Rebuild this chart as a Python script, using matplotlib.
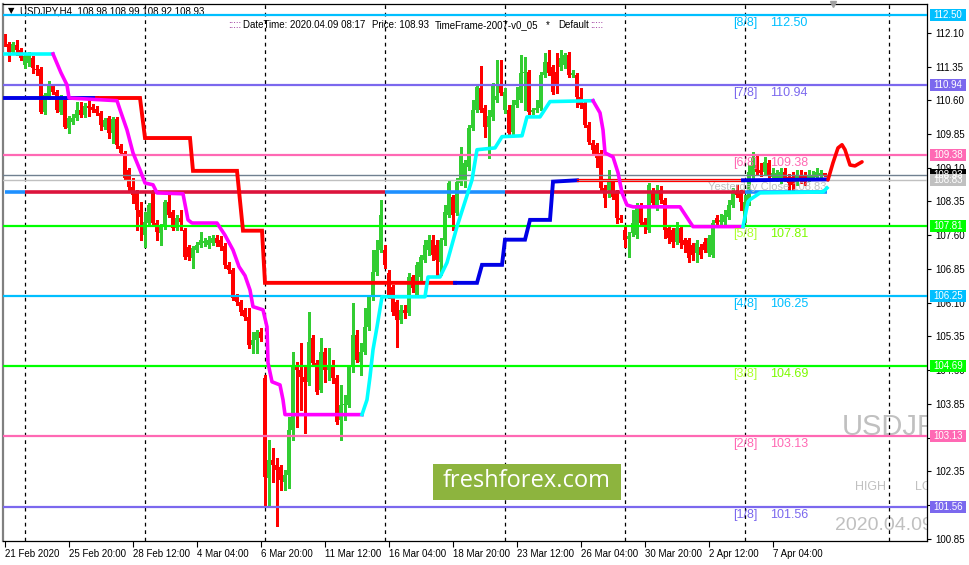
import numpy as np
import matplotlib
matplotlib.use("Agg")
import matplotlib.pyplot as plt
from matplotlib.patches import Rectangle
from matplotlib.transforms import blended_transform_factory

plt.rcParams['font.family'] = ['Liberation Sans', 'DejaVu Sans']

# USDJPY H4 candles, bar 0 = Mon 24 Feb 2020 00:00 (weekends skipped)
first_bar = -5

opens = [112.01, 111.85, 111.68, 111.83, 111.72,
         111.39, 111.43, 111.54, 111.30, 111.30, 110.34, 110.68, 110.92, 110.79, 110.34,
         110.61, 109.99, 110.12, 110.21, 110.39, 110.28, 110.48, 110.45, 110.41, 110.32,
         110.01, 110.21, 109.88, 110.19, 109.59, 109.43, 109.05, 108.68, 108.54, 108.16,
         107.61, 107.87, 108.54, 107.87, 107.65, 107.79, 108.34, 108.12, 107.76, 107.99,
         107.72, 107.34, 107.10, 107.27, 107.39, 107.43, 107.39, 107.43, 107.54, 107.50,
         107.36, 106.94, 106.83, 106.23, 106.12, 105.94, 105.78, 105.16, 105.27, 105.45,
         104.43, 102.20, 102.60, 102.49, 102.45, 102.11, 102.27, 103.27, 104.67, 104.61,
         104.45, 104.34, 105.32, 104.76, 104.16, 105.01, 104.61, 104.72, 104.43, 103.49,
         103.82, 103.83, 104.67, 105.38, 104.78, 105.01, 105.56, 106.23, 106.79, 107.27,
         107.27, 106.76, 106.45, 106.12, 105.72, 105.94, 105.87, 106.67, 106.27, 106.67,
         107.05, 107.27, 107.50, 107.39, 107.01, 107.50, 108.05, 108.45, 108.10, 108.76,
         108.83, 109.12, 109.99, 110.39, 110.88, 110.43, 110.01, 110.23, 110.61, 110.94,
         110.39, 110.39, 109.90, 110.50, 110.61, 111.21, 111.23, 110.34, 110.39, 110.43,
         111.17, 111.45, 111.34, 111.23, 111.34, 111.39, 111.61, 111.17, 111.17, 110.68,
         110.54, 110.05, 109.65, 109.61, 109.43, 108.65, 108.61, 108.79, 108.54, 107.99,
         107.72, 107.52, 107.65, 107.61, 108.27, 107.90, 107.72, 108.56, 108.23, 108.61,
         108.39, 107.76, 107.72, 107.45, 107.76, 107.50, 107.50, 107.39, 107.21, 107.34,
         107.45, 107.21, 107.16, 107.99, 107.90, 107.90, 108.01, 108.27, 108.56, 108.54,
         107.94, 108.39, 108.94, 109.16, 109.05, 109.01, 109.21, 108.90, 108.88, 108.83,
         109.01, 108.90, 108.90, 108.79, 108.94, 108.94, 108.88, 108.88, 108.90, 108.92,
         108.98]

closes = [111.85, 111.68, 111.85, 111.72, 111.54,
          111.59, 111.61, 111.32, 111.28, 110.34, 110.72, 110.94, 110.79, 110.39, 110.68,
          110.01, 110.21, 110.21, 110.39, 110.28, 110.48, 110.43, 110.39, 110.32, 110.05,
          110.16, 109.88, 110.19, 109.61, 109.43, 108.88, 108.68, 108.50, 108.16, 108.01,
          107.90, 108.27, 107.87, 107.67, 107.79, 108.34, 108.05, 107.76, 107.99, 107.90,
          107.12, 107.12, 107.32, 107.39, 107.50, 107.47, 107.50, 107.54, 107.43, 107.34,
          106.94, 106.83, 106.21, 106.12, 105.90, 105.78, 105.16, 105.27, 105.45, 105.32,
          102.23, 102.60, 102.49, 102.38, 102.16, 102.27, 103.27, 104.72, 104.61, 104.45,
          104.34, 105.23, 104.76, 104.12, 105.01, 104.61, 104.72, 104.43, 103.45, 103.83,
          103.84, 104.67, 105.38, 104.83, 105.01, 105.56, 106.23, 106.79, 107.27, 108.05,
          106.94, 106.27, 105.90, 105.72, 105.94, 105.87, 106.67, 106.43, 106.94, 107.12,
          107.39, 107.50, 107.16, 107.05, 107.50, 108.12, 108.76, 108.05, 108.79, 109.39,
          109.21, 109.99, 110.39, 110.90, 110.39, 110.01, 110.25, 110.94, 110.70, 110.77,
          110.79, 109.88, 110.50, 110.61, 111.21, 111.23, 110.34, 110.39, 110.43, 111.17,
          111.45, 111.21, 110.79, 110.94, 111.54, 111.61, 111.17, 111.21, 110.68, 110.50,
          110.05, 109.68, 109.50, 109.32, 108.65, 108.43, 108.79, 108.45, 107.99, 107.94,
          107.50, 107.59, 107.87, 108.27, 107.87, 107.83, 108.72, 108.32, 108.54, 108.39,
          107.72, 107.54, 107.45, 107.76, 107.43, 107.39, 107.10, 107.16, 107.43, 107.16,
          107.27, 107.54, 107.87, 107.87, 107.94, 108.05, 108.27, 108.54, 108.50, 108.34,
          108.34, 109.01, 109.32, 109.01, 108.99, 109.23, 108.94, 108.99, 108.99, 109.01,
          108.88, 108.76, 108.72, 108.94, 108.88, 108.79, 108.94, 108.94, 109.01, 108.99,
          108.93]

highs = [112.08, 111.90, 111.90, 111.94, 111.77,
         111.63, 111.68, 111.59, 111.39, 111.34, 110.77, 111.03, 110.97, 110.83, 110.72,
         110.65, 110.25, 110.30, 110.57, 110.57, 110.54, 110.65, 110.52, 110.48, 110.36,
         110.21, 110.25, 110.23, 110.23, 109.63, 109.48, 109.10, 108.88, 108.61, 108.34,
         108.12, 108.32, 108.61, 107.94, 107.85, 108.39, 108.54, 108.16, 108.05, 108.16,
         107.76, 107.39, 107.36, 107.45, 107.67, 107.54, 107.59, 107.61, 107.61, 107.59,
         107.43, 107.01, 106.87, 106.30, 106.16, 105.98, 105.98, 105.45, 105.49, 105.54,
         104.49, 103.05, 102.87, 102.65, 102.49, 102.38, 103.56, 105.01, 104.78, 105.21,
         104.72, 105.90, 105.38, 104.83, 105.32, 105.09, 105.09, 104.83, 104.49, 104.27,
         104.05, 104.72, 106.10, 105.49, 105.21, 105.98, 106.27, 107.27, 107.50, 108.39,
         107.39, 106.83, 106.50, 106.16, 106.05, 106.05, 106.76, 106.72, 107.01, 107.16,
         107.50, 107.61, 107.61, 107.50, 107.54, 108.27, 108.83, 108.50, 108.88, 109.56,
         109.28, 110.05, 110.61, 110.94, 111.37, 110.50, 110.39, 110.99, 111.50, 111.50,
         110.88, 110.50, 110.61, 110.90, 111.61, 111.57, 111.28, 110.43, 110.61, 111.23,
         111.65, 111.72, 111.39, 111.65, 111.72, 111.65, 111.68, 111.28, 111.21, 110.88,
         110.61, 110.12, 109.72, 109.65, 109.50, 108.72, 109.05, 108.83, 108.61, 108.05,
         107.81, 107.67, 108.16, 108.32, 108.32, 107.99, 108.76, 108.65, 108.72, 108.70,
         108.43, 107.81, 107.76, 107.90, 107.81, 107.54, 107.54, 107.43, 107.50, 107.41,
         107.54, 107.61, 107.94, 108.05, 108.07, 108.16, 108.39, 108.65, 108.72, 108.61,
         108.50, 109.16, 109.45, 109.39, 109.21, 109.34, 109.28, 109.10, 109.05, 109.10,
         109.10, 108.96, 109.01, 109.05, 109.05, 109.01, 109.05, 109.03, 109.10, 109.05,
         108.99]

lows = [111.81, 111.48, 111.63, 111.61, 111.50,
        111.32, 111.37, 111.21, 111.17, 110.32, 110.30, 110.63, 110.74, 110.34, 110.30,
        109.99, 109.88, 110.08, 110.16, 110.23, 110.23, 110.25, 110.34, 110.28, 109.94,
        109.96, 109.76, 109.65, 109.54, 109.39, 108.83, 108.61, 108.32, 107.72, 107.50,
        107.34, 107.81, 107.83, 107.50, 107.39, 107.74, 108.01, 107.72, 107.72, 107.72,
        107.07, 107.05, 106.87, 107.23, 107.34, 107.36, 107.32, 107.39, 107.36, 107.27,
        106.87, 106.76, 106.16, 106.05, 105.83, 105.72, 105.09, 104.98, 104.98, 105.25,
        101.56, 101.56, 102.11, 101.14, 101.94, 101.94, 101.98, 103.05, 103.34, 103.72,
        103.20, 104.27, 104.72, 104.07, 104.12, 104.34, 104.38, 104.32, 103.40, 103.05,
        103.49, 103.78, 104.56, 104.78, 104.49, 104.96, 105.49, 106.16, 106.72, 107.23,
        106.87, 106.21, 105.83, 105.12, 105.65, 105.76, 105.83, 106.34, 106.23, 106.61,
        107.01, 107.16, 107.05, 106.72, 106.72, 107.39, 108.01, 107.72, 108.05, 108.72,
        108.68, 109.05, 109.94, 110.34, 110.34, 109.79, 109.32, 110.16, 110.57, 110.72,
        110.32, 109.83, 109.85, 110.45, 110.57, 110.39, 110.30, 110.30, 110.34, 110.39,
        111.12, 111.17, 110.74, 110.77, 111.28, 111.32, 111.12, 111.12, 110.45, 110.43,
        110.01, 109.63, 109.43, 109.12, 108.61, 108.23, 108.45, 108.41, 107.87, 107.90,
        107.34, 107.12, 107.59, 107.54, 107.81, 107.65, 107.67, 108.27, 108.16, 108.32,
        107.54, 107.43, 107.34, 107.41, 107.32, 107.23, 107.01, 107.05, 107.01, 107.10,
        107.23, 107.14, 107.12, 107.81, 107.81, 107.85, 107.96, 108.23, 108.45, 108.16,
        107.90, 108.27, 108.88, 108.94, 108.92, 108.94, 108.88, 108.83, 108.81, 108.76,
        108.81, 108.61, 108.56, 108.72, 108.76, 108.72, 108.81, 108.83, 108.83, 108.88,
        108.92]

# supertrend-style trailing line (bar, price), colour flips cyan <-> magenta
st_bars = [-5, 7, 9, 10.5, 11, 23, 23.75, 25.5, 27, 28.75, 30, 32, 33, 39.5, 40.75, 41.75,
           48, 50, 52, 53.5, 55, 56.25, 57, 59.5, 60.5, 60.75, 61.75, 63.75, 64.5, 65,
           84.25, 85.5, 86.25, 87, 88, 89.25, 100, 100.75, 103.75, 105.5, 108, 111.75, 113,
           117.5, 119.25, 124.25, 125.5, 128.75, 131.25, 142, 143.75, 144.5, 145, 147,
           148.25, 149.25, 150.5, 152, 163.75, 167, 179.5, 180.75, 181.25, 183.75, 199.5, 200.5]
st_price = [111.63, 111.63, 111.21, 110.94, 110.65, 110.59, 110.39, 109.94, 109.43, 109.05,
            108.76, 108.72, 108.54, 108.52, 107.94, 107.87, 107.87, 107.60, 107.27, 106.90,
            106.70, 106.38, 106.01, 105.94, 105.56, 104.76, 104.34, 104.27, 103.94, 103.61,
            103.61, 103.94, 104.45, 105.05, 105.56, 106.23, 106.23, 106.67, 106.67, 106.99,
            107.79, 108.83, 109.50, 109.54, 109.79, 109.81, 110.23, 110.23, 110.57, 110.59,
            110.32, 109.94, 109.43, 109.34, 108.99, 108.54, 108.27, 108.23, 108.23, 107.79,
            107.79, 108.34, 108.39, 108.54, 108.56, 108.65]
st_flips = [7, 84.25, 142, 179.5]

# stepped stop line (bar, price)
stop_bars = [-5, 18, 28.75, 30, 41.25, 42, 53, 54.5, 59.25, 60, 107.5, 113, 114.25, 119.25,
             120, 125, 126.25, 131.25, 132, 138, 179.5, 200.5]
stop_price = [110.65, 110.65, 110.65, 109.76, 109.76, 109.03, 109.03, 107.70, 107.70, 106.54,
              106.54, 106.54, 106.94, 106.94, 107.50, 107.50, 107.94, 107.94, 108.79, 108.82,
              108.82, 108.84]
stop_switch = [18, 107.5, 138, 179.5]

# weekly level coloured per week
week_level = 108.57
week_switch = [0, 90, 120, 180]
week_starts = [0, 30, 60, 90, 120, 150, 180, 216]

murrey_names = ['[8/8]', '[7/8]', '[6/8]', '[5/8]', '[4/8]', '[3/8]', '[2/8]', '[1/8]']
murrey_levels = [112.50, 110.94, 109.38, 107.81, 106.25, 104.69, 103.13, 101.56]
murrey_colors = ['#00BFFF', '#7B68EE', '#FF69B4', '#00FF00', '#00BFFF', '#00FF00', '#FF69B4', '#7B68EE']
name_colors = ['#00BFFF', '#7B68EE', '#FF69B4', '#ADFF2F', '#00BFFF', '#ADFF2F', '#FF69B4', '#7B68EE']
value_colors = ['#00BFFF', '#7B68EE', '#FF69B4', '#7CFC00', '#00BFFF', '#7CFC00', '#FF69B4', '#7B68EE']

bid = 108.93
yesterday_close = 108.83

# hand-drawn forecast wave
wave_bars = [200.75, 202, 203.25, 204.25, 205, 206.25, 207.5, 209.25]
wave_price = [108.83, 109.21, 109.54, 109.61, 109.50, 109.16, 109.14, 109.23]

tick_bars = [-5, 11, 27, 43, 59, 75, 91, 107, 123, 139, 155, 171, 187]
tick_labels = ['21 Feb 2020', '25 Feb 20:00', '28 Feb 12:00', '4 Mar 04:00', '6 Mar 20:00',
               '11 Mar 12:00', '16 Mar 04:00', '18 Mar 20:00', '23 Mar 12:00', '26 Mar 04:00',
               '30 Mar 20:00', '2 Apr 12:00', '7 Apr 04:00']
price_ticks = [round(100.85 + 0.75 * k, 2) for k in range(16)]

# ---------------------------------------------------------------
W, H = 970, 565
fig = plt.figure(figsize=(W / 100, H / 100), dpi=100)
ax = fig.add_axes([3 / W, (H - 541) / H, 924 / W, 537 / H])
ax.set_xlim(-5.5, 225.5)
ax.set_ylim(100.80, 112.74)


def px(x, y):
    # screen pixel -> axes fraction, for decoration placement
    return (x - 3) / 924, (541 - y) / 537


o = np.array(opens)
c = np.array(closes)
hi = np.maximum(np.array(highs), np.maximum(o, c))
lo = np.minimum(np.array(lows), np.minimum(o, c))
bars = np.arange(first_bar, first_bar + len(c))
up = c >= o
col = np.where(up, '#32CD32', '#FF0000')

ax.vlines(bars, lo, hi, colors=col, lw=0.8, antialiased=False, zorder=2)
body = np.maximum(np.abs(c - o), 0.02)
ax.bar(bars, body, bottom=np.minimum(o, c), width=0.78, color=col, lw=0,
       antialiased=False, zorder=2)

# weekly separators
for wk in week_starts:
    ax.axvline(wk, color='black', lw=0.9, ls=(0, (3, 3)), zorder=1.5)

# horizontal levels
for lev, colr in zip(murrey_levels, murrey_colors):
    ax.axhline(lev, color=colr, lw=1.6, zorder=3)
ax.axhline(bid, color='#708090', lw=1.0, zorder=3)
ax.axhline(yesterday_close, color='#C0C0C0', lw=1.0, zorder=3)

# weekly level segments
edges = [first_bar] + week_switch + [200.5]
for k in range(len(edges) - 1):
    colr = '#1E90FF' if k % 2 == 0 else '#DC143C'
    ax.plot([edges[k], edges[k + 1]], [week_level, week_level], color=colr, lw=2.6,
            solid_capstyle='butt', zorder=3.5)


def split_line(xs, ys, cuts):
    xs = np.array(xs, float)
    ys = np.array(ys, float)
    bounds = [xs[0]] + list(cuts) + [xs[-1]]
    parts = []
    for a, b in zip(bounds[:-1], bounds[1:]):
        m = (xs > a) & (xs < b)
        sx = np.concatenate([[a], xs[m], [b]])
        sy = np.concatenate([[np.interp(a, xs, ys)], ys[m], [np.interp(b, xs, ys)]])
        parts.append((sx, sy))
    return parts


# stop line
stop_cols = ['#0000E6', '#FF0000', '#0000E6', 'double', '#0000E6']
for (sx, sy), colr in zip(split_line(stop_bars, stop_price, stop_switch), stop_cols):
    if colr == 'double':
        ax.plot(sx, sy + 0.02, color='#FF0000', lw=0.9, zorder=4)
        ax.plot(sx, sy - 0.025, color='#FF0000', lw=0.9, zorder=4)
    else:
        ax.plot(sx, sy, color=colr, lw=2.8, solid_joinstyle='miter', zorder=4)

# supertrend line
for k, (sx, sy) in enumerate(split_line(st_bars, st_price, st_flips)):
    ax.plot(sx, sy, color='#00FFFF' if k % 2 == 0 else '#FF00FF', lw=2.6, zorder=4.2)

# forecast wave
ax.plot(wave_bars, wave_price, color='#FF0000', lw=2.6, solid_capstyle='round',
        solid_joinstyle='round', zorder=4)

# murrey labels
for name, lev, nc, vc in zip(murrey_names, murrey_levels, name_colors, value_colors):
    ax.text(177, lev - 0.178, name, color=nc, fontsize=9, va='center', ha='left', zorder=5)
    ax.text(186.25, lev - 0.178, f'{lev:.2f}', color=vc, fontsize=9, va='center', ha='left', zorder=5)

ax.text(170.75, 108.68, f'Yesterday Close {yesterday_close:.2f}', color='#C0C0C0',
        fontsize=8, va='center', ha='left', zorder=3.8)

# watermark texts (clipped by the chart area)
ax.text(*px(842, 427), 'USDJPY', transform=ax.transAxes, color='#C0C0C0', fontsize=21,
        va='center', ha='left', clip_on=True, zorder=1)
ax.text(*px(855, 487), 'HIGH', transform=ax.transAxes, color='#C0C0C0', fontsize=9,
        va='center', ha='left', clip_on=True, zorder=1)
ax.text(*px(915, 487), 'LOW', transform=ax.transAxes, color='#C0C0C0', fontsize=9,
        va='center', ha='left', clip_on=True, zorder=1)
ax.text(*px(835, 525), '2020.04.09 08:17', transform=ax.transAxes, color='#C0C0C0',
        fontsize=14, va='center', ha='left', clip_on=True, zorder=1)

# logo
lx0, ly0 = px(433, 500)
lx1, ly1 = px(621, 464)
ax.add_patch(Rectangle((lx0, ly0), lx1 - lx0, ly1 - ly0, transform=ax.transAxes,
                       facecolor='#8DB43E', edgecolor='none', zorder=5))
ax.text((lx0 + lx1) / 2, (ly0 + ly1) / 2 + 0.002, 'freshforex.com', transform=ax.transAxes,
        color='white', fontsize=17, family='Open Sans', ha='center', va='center', zorder=6)

# header texts
ax.text(*px(11, 11), '▼', transform=ax.transAxes, fontsize=6, family='DejaVu Sans',
        va='center', ha='center', zorder=2.5)
ax.text(*px(20, 11), 'USDJPY,H4  108.98 108.99 108.92 108.93', transform=ax.transAxes,
        fontsize=7, va='center', ha='left', zorder=2.5)
info_parts = [(228, ':::::', '#800080'), (243, 'DateTime: 2020.04.09 08:17', 'black'),
              (372, 'Price: 108.93', 'black'), (435, 'TimeFrame-2007-v0_05', 'black'),
              (546, '*', 'black'), (558, 'Default', 'black'), (590, ':::::', '#800080')]
for xp, txt, colr in info_parts:
    ax.text(*px(xp, 25), txt, transform=ax.transAxes, fontsize=7, color=colr,
            va='center', ha='left', zorder=5)

# chart shift marker
ax.plot([202], [112.74], marker='v', color='#A0A0A0', ms=5, clip_on=False, zorder=6)

# axes styling
ax.set_xticks(tick_bars)
ax.set_xticklabels(tick_labels)
for lab in ax.get_xticklabels():
    lab.set_ha('left')
ax.tick_params(axis='x', length=4, width=0.8, pad=2, labelsize=7)
ax.yaxis.tick_right()
ax.set_yticks(price_ticks)
# labels fully hidden behind the level boxes are left blank
ax.set_yticklabels(['' if any(abs(p - m) < 0.06 for m in murrey_levels) else f'{p:.2f}'
                    for p in price_ticks])
ax.tick_params(axis='y', length=3, width=0.8, pad=3, labelsize=7)
for s in ax.spines.values():
    s.set_color('black')
    s.set_linewidth(0.9)
ax.spines['left'].set_color('#808080')
ax.spines['left'].set_linewidth(1.6)

# price boxes on the right scale
tr = blended_transform_factory(ax.transAxes, ax.transData)
box_prices = murrey_levels[:3] + [bid, yesterday_close] + murrey_levels[3:]
box_colors = murrey_colors[:3] + ['#000000', '#C0C0C0'] + murrey_colors[3:]
bh = 12 / 44.97
for bp, bc in zip(box_prices, box_colors):
    ax.add_patch(Rectangle((1.0032, bp - bh / 2), 0.039, bh, transform=tr, facecolor=bc,
                           edgecolor='none', clip_on=False, zorder=6))
    ax.text(1.0065, bp, f'{bp:.2f}', transform=tr, color='white', fontsize=7,
            va='center', ha='left', clip_on=False, zorder=7)

fig.savefig('out.png', dpi=100, facecolor='white')
